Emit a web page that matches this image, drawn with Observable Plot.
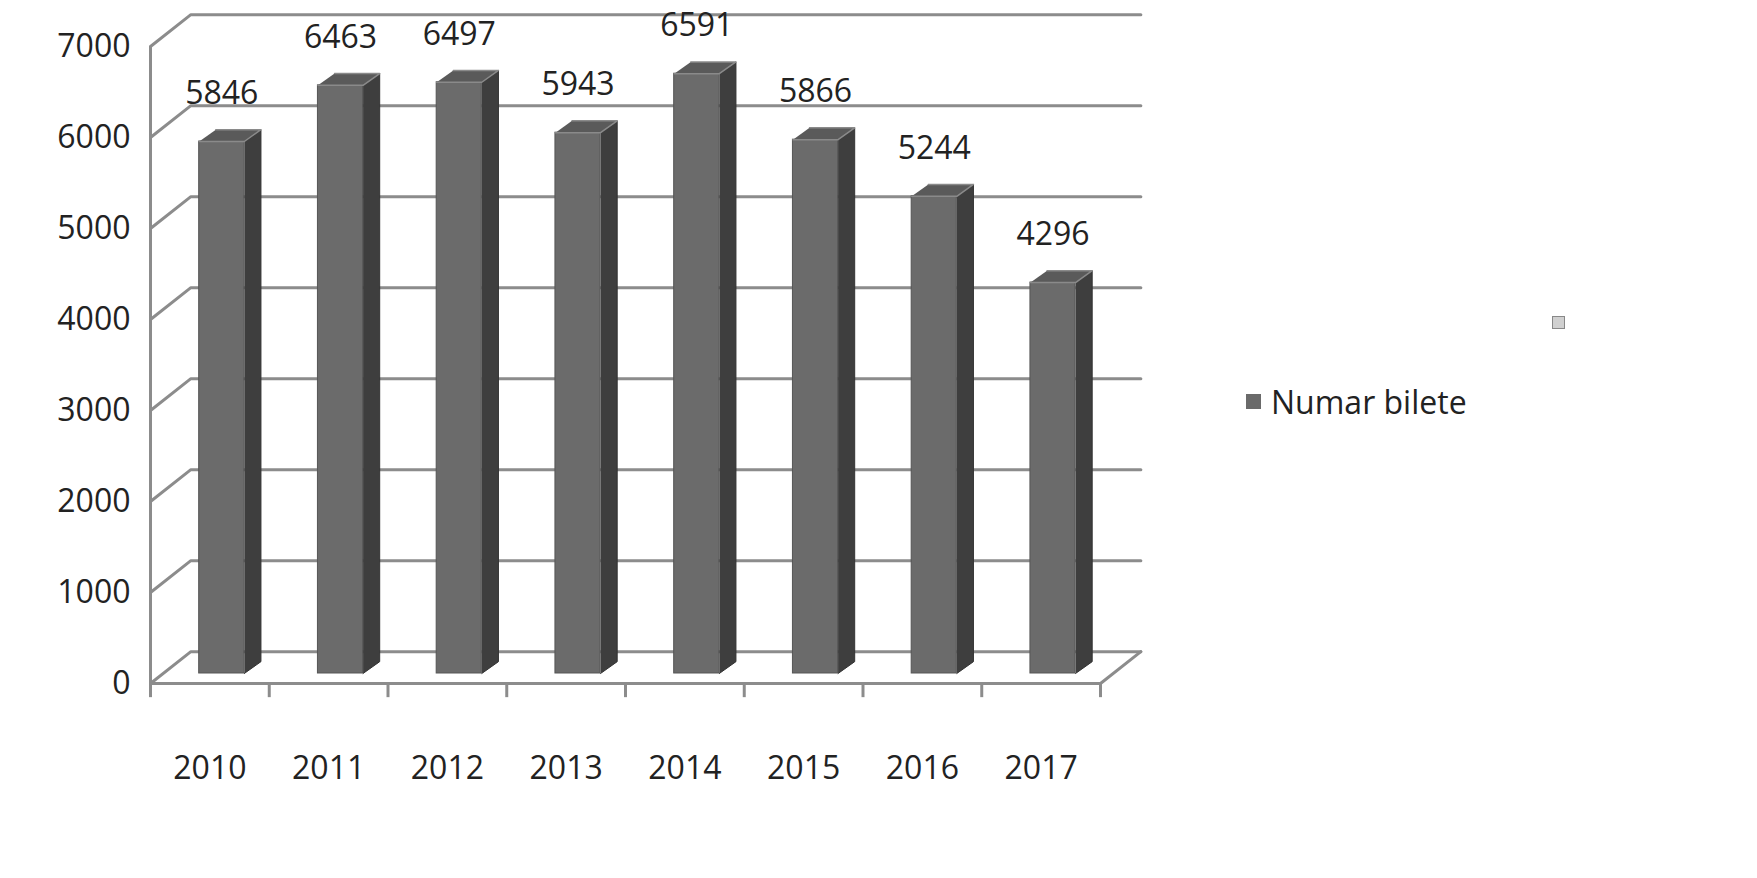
<!DOCTYPE html>
<html>
<head>
<meta charset="utf-8">
<script src="https://cdn.jsdelivr.net/npm/d3@7"></script>
<script src="https://cdn.jsdelivr.net/npm/@observablehq/plot@0.6"></script>
<style>
  body { margin: 0; background: #fff; font-family: "Open Sans", sans-serif; }
  #wrap { position: relative; width: 1757px; height: 878px; }
  .leg { position: absolute; display: flex; align-items: center; font-size: 32px; color: #222; }
  .sw { display: inline-block; width: 15px; height: 15px; margin-right: 10px; }
</style>
</head>
<body>
<div id="wrap">
  <div id="chart"></div>
  <div class="leg" style="left:1246px; top:380px;"><span class="sw" style="background:#6a6a6a"></span>Numar bilete</div>
  <div class="leg" style="left:1552px; top:316px;"><span class="sw" style="background:#d0d0d0;border:1px solid #888;width:11px;height:11px"></span></div>
</div>
<script>
const years = ["2010", "2011", "2012", "2013", "2014", "2015", "2016", "2017"];
const tickets = [5846, 6463, 6497, 5943, 6591, 5866, 5244, 4296];
const yTicks = [0, 1000, 2000, 3000, 4000, 5000, 6000, 7000];

// depth of the 3D look, in data units
const wallDx = 0.34, wallDy = 350;
const barHalf = 0.19, sideDx = 0.14, sideDy = 130, barBase = 110;
const x0 = -0.6, x1 = 7.4;

const bars = years.map((y, i) => ({ i, year: y, v: tickets[i] }));

const sides = bars.flatMap(d => [
  { id: d.i, x: d.i + barHalf, y: barBase },
  { id: d.i, x: d.i + barHalf + sideDx, y: barBase + sideDy },
  { id: d.i, x: d.i + barHalf + sideDx, y: d.v + barBase + sideDy },
  { id: d.i, x: d.i + barHalf, y: d.v + barBase }
]);
const tops = bars.flatMap(d => [
  { id: d.i, x: d.i - barHalf, y: d.v + barBase },
  { id: d.i, x: d.i + barHalf, y: d.v + barBase },
  { id: d.i, x: d.i + barHalf + sideDx, y: d.v + barBase + sideDy },
  { id: d.i, x: d.i - barHalf + sideDx, y: d.v + barBase + sideDy }
]);

const grid = yTicks.flatMap(t => [
  { id: t, x: x0, y: t },
  { id: t, x: x0 + wallDx, y: t + wallDy },
  { id: t, x: x1 + wallDx, y: t + wallDy }
]);
const floorRight = [{ x: x1, y: 0 }, { x: x1 + wallDx, y: wallDy }];
const bounds = d3.range(9).map(k => x0 + k * (x1 - x0) / 8);

const plot = Plot.plot({
  width: 1757,
  height: 878,
  marginLeft: 150,
  marginRight: 657,
  marginTop: 46,
  marginBottom: 195,
  style: { fontFamily: "Open Sans, sans-serif", background: "#fff" },
  x: { domain: [x0, x1], axis: null },
  y: { domain: [0, 7000], axis: null },
  marks: [
    Plot.line(grid, { x: "x", y: "y", z: "id", stroke: "#8c8c8c", strokeWidth: 3 }),
    Plot.line(floorRight, { x: "x", y: "y", stroke: "#8c8c8c", strokeWidth: 3 }),
    Plot.ruleY([0], { stroke: "#8c8c8c", strokeWidth: 3 }),
    Plot.ruleX([x0], { stroke: "#8c8c8c", strokeWidth: 3 }),
    Plot.link(bounds, { x1: d => d, x2: d => d, y1: 0, y2: -150, stroke: "#8c8c8c", strokeWidth: 3 }),
    Plot.link(yTicks, { x1: x0, x2: x0, y1: d => d, y2: d => d, dx: -8, stroke: "#8c8c8c", strokeWidth: 3 }),
    Plot.line(sides, { x: "x", y: "y", z: "id", fill: "#3e3e3e", stroke: "#333", strokeWidth: 1 }),
    Plot.rect(bars, { x1: d => d.i - barHalf, x2: d => d.i + barHalf, y1: barBase, y2: d => d.v + barBase, fill: "#6b6b6b", stroke: "#555", strokeWidth: 1 }),
    Plot.line(tops, { x: "x", y: "y", z: "id", fill: "#5a5a5a", stroke: "#8a8a8a", strokeWidth: 1.5 }),
    Plot.text(bars, { x: d => d.i, y: d => d.v + barBase + sideDy, dy: -36, text: d => String(d.v), fontSize: 32, fill: "#222" }),
    Plot.text(yTicks, { x: x0, y: d => d, dx: -20, textAnchor: "end", text: d => String(d), fontSize: 32, fill: "#222" }),
    Plot.text(bars, { x: d => d.i - 0.1, y: 0, dy: 85, text: "year", fontSize: 32, fill: "#222" })
  ]
});
document.querySelector("#chart").append(plot);
</script>
</body>
</html>
